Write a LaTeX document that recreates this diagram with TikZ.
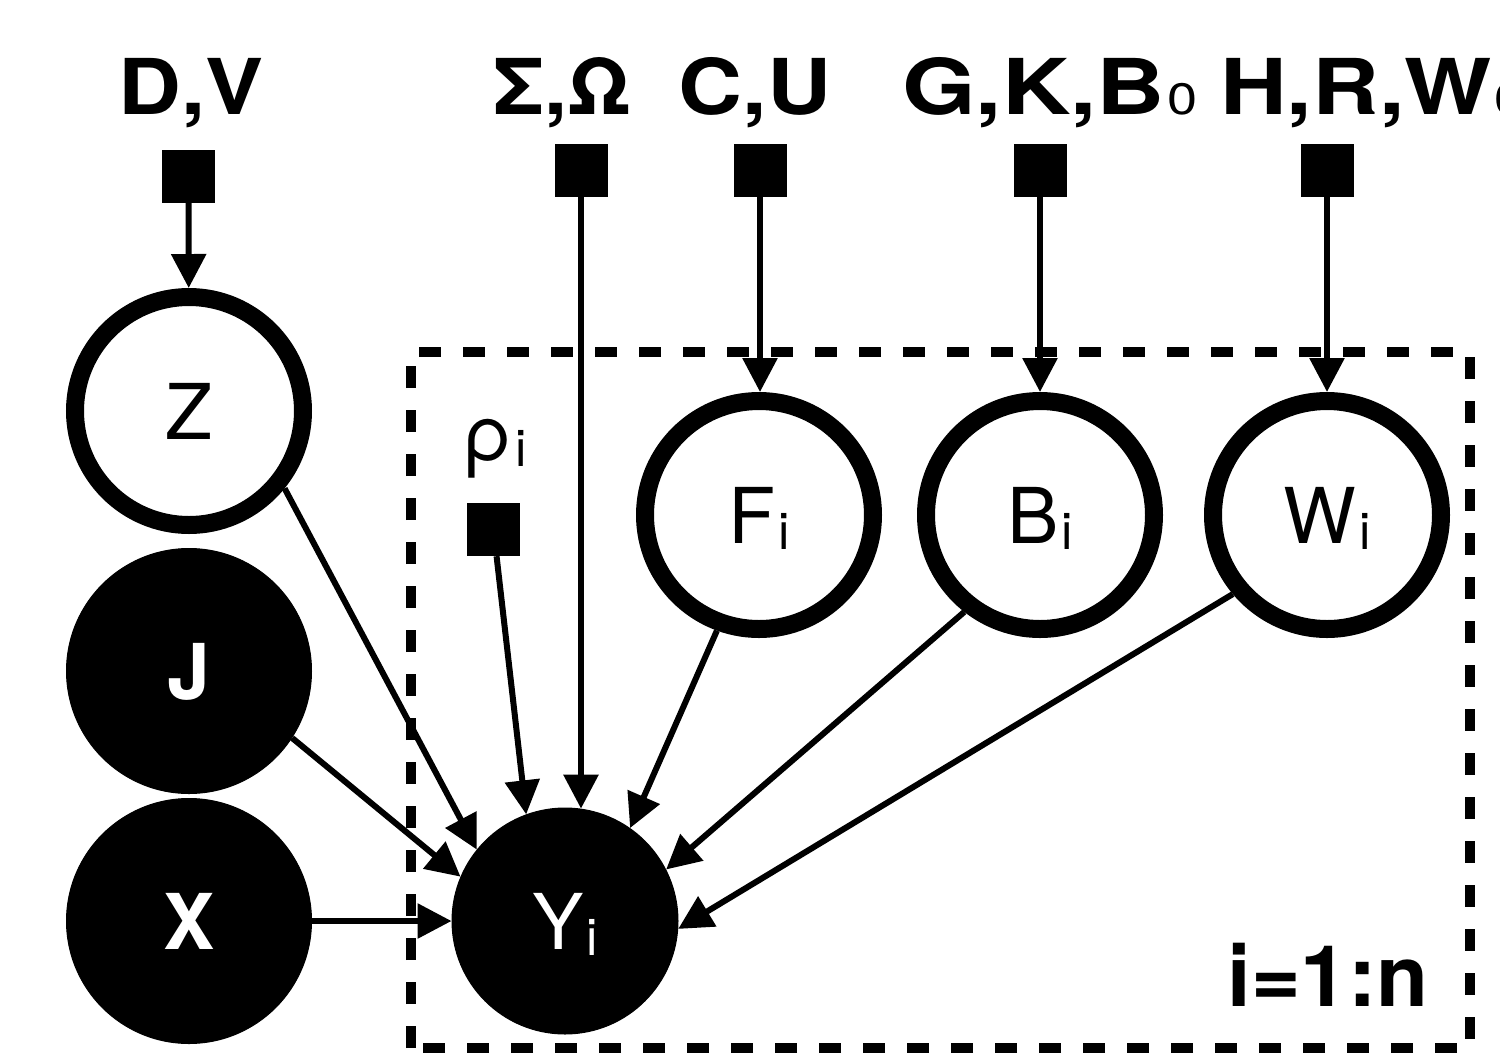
\documentclass[tikz,border=0pt]{standalone}
\usepackage{fontspec}
\usepackage{graphicx}
\setmainfont{TeX Gyre Heros}
\usetikzlibrary{arrows.meta}

% subscript set smaller and slightly below the baseline
\newcommand\lowsub[1]{\kern3pt\raisebox{-6pt}{\fontsize{51}{51}\selectfont\mdseries #1}}
% subscript resting on the baseline (used in the parameter labels)
\newcommand\flatsub[1]{\kern2pt{\fontsize{44}{44}\selectfont\mdseries #1}}
% wide bold parameter label, horizontal stretch as first argument
\newcommand\parlabel[2]{\scalebox{#1}[1]{\fontsize{77}{80}\selectfont\bfseries #2}}

\begin{document}
\begin{tikzpicture}[x=1pt,y=-1pt,
  latent/.style={circle, draw, line width=18pt, minimum size=228pt, inner sep=0pt,
    text height=56pt, text depth=0pt, font=\fontsize{77}{80}\selectfont},
  observed/.style={circle, draw, fill, line width=1pt, minimum size=245pt, inner sep=0pt,
    text=white, text height=56pt, text depth=0pt, font=\fontsize{77}{80}\selectfont\bfseries},
  factor/.style={rectangle, fill, minimum size=53pt, inner sep=0pt},
  parname/.style={anchor=base, inner sep=0pt},
  edge/.style={line width=6pt, -{Triangle[length=34pt,width=34pt]}},
  plate/.style={line width=10pt, dash pattern=on 22pt off 22pt}
]
\useasboundingbox (0,0) rectangle (1500,1053);

% plate
\draw[plate] (411,1048) -- (411,352) -- (1470,352) -- (1470,1048) -- cycle;
\node[anchor=base, inner sep=0pt, font=\fontsize{85}{88}\selectfont\bfseries] (plateidx) at (1328,1006) {i=1:n};

% parameter labels
\node[parname] (lDV)  at (191,114)  {\parlabel{1.13}{D,V}};
\node[parname] (lSO)  at (563,114)  {\parlabel{1.08}{Σ,Ω}};
\node[parname] (lCU)  at (755,114)  {\parlabel{1.15}{C,U}};
\node[parname] (lGKB) at (1050,114) {\parlabel{1.23}{G,K,B\flatsub{0}}};
\node[parname] (lHRW) at (1372,114) {\parlabel{1.2}{H,R,W\flatsub{0}}};
\node[anchor=base, inner sep=0pt, font=\fontsize{77}{80}\selectfont] (lrho) at (495,460) {ρ\lowsub{i}};

% factor squares
\node[factor] (fDV)  at (188.5,176.5) {};
\node[factor] (fSO)  at (581,170) {};
\node[factor] (fCU)  at (760,170) {};
\node[factor] (fGKB) at (1040,170) {};
\node[factor] (fHRW) at (1327,170) {};
\node[factor] (frho) at (493.5,529.5) {};

% variables
\node[latent] (Z)  at (189,411) {Z};
\node[latent] (Fi) at (759,515) {F\lowsub{i}};
\node[latent] (Bi) at (1040,515) {B\lowsub{i}};
\node[latent] (Wi) at (1327,515) {W\lowsub{i}};
\node[observed] (J) at (189,671) {J};
\node[observed] (X) at (189,921) {X};
\node[observed, minimum size=226pt, font=\fontsize{77}{80}\selectfont] (Yi) at (565,921) {Y\lowsub{i}};

% edges
\draw[edge] (fDV) -- (Z);
\draw[edge] (fSO) -- (fSO |- Yi.82);
\draw[edge] (fCU) -- (fCU |- Fi.north);
\draw[edge] (fGKB) -- (fGKB |- Bi.north);
\draw[edge] (fHRW) -- (fHRW |- Wi.north);
\draw[edge] (frho) -- (Yi.110);
\draw[edge] (Z.-39) -- (Yi.141);
\draw[edge] (J.-33) -- (Yi.157);
\draw[edge] (X) -- (Yi);
\draw[edge] (Fi.-110) -- (Yi.55);
\draw[edge] (Bi.-128) -- (Yi.27.5);
\draw[edge] (Wi.-140) -- (Yi.-4.5);
\end{tikzpicture}
\end{document}
